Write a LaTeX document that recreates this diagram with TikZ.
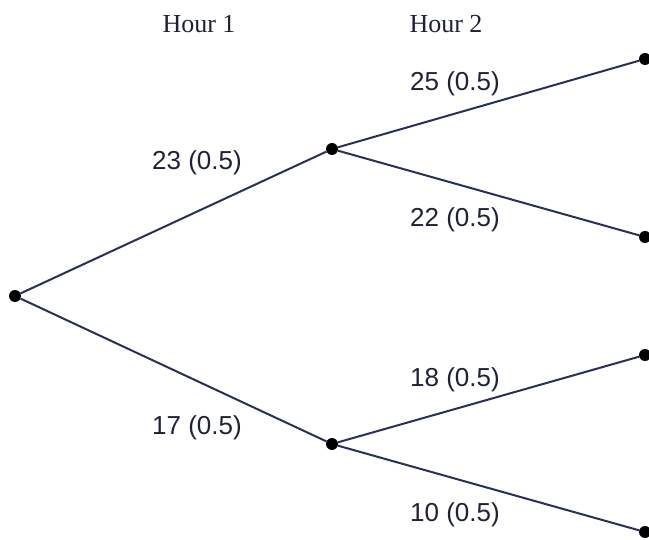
\documentclass[tikz,border=0pt]{standalone}
\usepackage{fontspec}
\setmainfont{Liberation Serif}
\setsansfont{Liberation Sans}
\definecolor{ink}{RGB}{40,48,88}
\definecolor{txt}{RGB}{30,34,56}
\begin{document}
\begin{tikzpicture}[x=1pt,y=-1pt,
  dot/.style={circle,fill=black,inner sep=0pt,minimum size=12pt},
  branch/.style={draw=ink,line width=2pt},
  hdr/.style={font=\fontsize{26}{30}\selectfont\rmfamily,text=txt},
  lbl/.style={font=\fontsize{26}{30}\selectfont\sffamily,text=txt}]
\useasboundingbox (0,0) rectangle (649,540);
% decision points
\node[dot] (r) at (15,296) {};
\node[dot] (a) at (332,149) {};
\node[dot] (b) at (332,444) {};
\node[dot] (aa) at (645,59) {};
\node[dot] (ab) at (645,237) {};
\node[dot] (ba) at (645,355) {};
\node[dot] (bb) at (645,532) {};
% branches
\draw[branch] (r) -- (a);
\draw[branch] (r) -- (b);
\draw[branch] (a) -- (aa);
\draw[branch] (a) -- (ab);
\draw[branch] (b) -- (ba);
\draw[branch] (b) -- (bb);
% column headings
\node[hdr] (h1) at (199,24) {Hour 1};
\node[hdr] (h2) at (446,24) {Hour 2};
% branch values and probabilities
\node[lbl] (l1) at (197,163) {23 (0.5)};
\node[lbl] (l2) at (197,428) {17 (0.5)};
\node[lbl] (l3) at (455,84) {25 (0.5)};
\node[lbl] (l4) at (455,220) {22 (0.5)};
\node[lbl] (l5) at (455,380) {18 (0.5)};
\node[lbl] (l6) at (455,515) {10 (0.5)};
\end{tikzpicture}
\end{document}
